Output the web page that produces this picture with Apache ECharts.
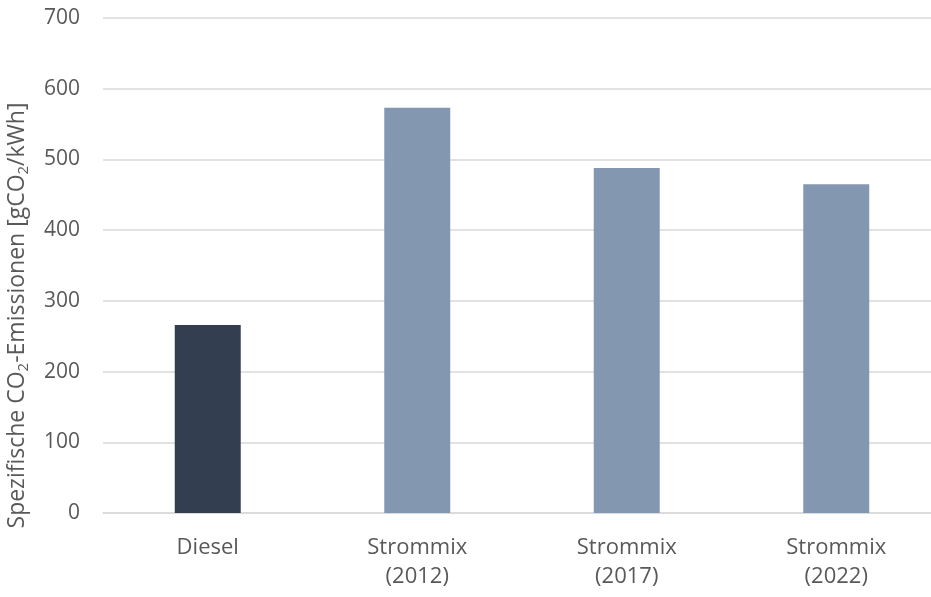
<!DOCTYPE html>
<html>
<head>
<meta charset="utf-8">
<script src="https://cdn.jsdelivr.net/npm/echarts@6/dist/echarts.min.js"></script>
<style>
  html, body { margin: 0; padding: 0; background: #fff; }
  #chart { width: 931px; height: 597px; }
</style>
</head>
<body>
<div id="chart"></div>
<script>
// Specific CO2 emissions per kWh: diesel vs. German electricity mix
const categories = ['Diesel', 'Strommix\n(2012)', 'Strommix\n(2017)', 'Strommix\n(2022)'];
const emissions = [266, 573, 488, 465];
const barColors = ['#333f50', '#8497b0', '#8497b0', '#8497b0'];
const yTicks = [0, 100, 200, 300, 400, 500, 600, 700];

const FONT = '"Open Sans", "Noto Sans", sans-serif';
const TEXT = '#595959';
const GRID = '#d9d9d9';

const chart = echarts.init(document.getElementById('chart'), null, { renderer: 'canvas' });

chart.setOption({
  backgroundColor: '#ffffff',
  animation: false,
  grid: {
    left: 103,
    right: -10,
    top: 18,
    bottom: 84,
    containLabel: false,
    outerBoundsMode: 'none'
  },
  xAxis: {
    type: 'category',
    data: categories,
    axisLine: { show: true, lineStyle: { color: GRID, width: 1.5 } },
    axisTick: { show: false },
    axisLabel: {
      color: TEXT,
      fontFamily: FONT,
      fontSize: 22,
      lineHeight: 29,
      margin: 20,
      interval: 0
    }
  },
  yAxis: {
    type: 'value',
    min: yTicks[0],
    max: yTicks[yTicks.length - 1],
    interval: 100,
    axisLine: { show: false },
    axisTick: { show: false },
    splitLine: { lineStyle: { color: GRID, width: 1.5 } },
    axisLabel: {
      color: TEXT,
      fontFamily: FONT,
      fontSize: 21,
      margin: 23
    },
    name: '{a|Spezifische CO}{s|2}{a|-Emissionen [gCO}{s|2}{a|/kWh]}',
    nameLocation: 'middle',
    nameGap: 66,
    nameRotate: 90,
    nameTextStyle: {
      padding: [0, 100, 0, 0],
      rich: {
        a: { color: TEXT, fontFamily: FONT, fontSize: 23, lineHeight: 31 },
        s: { color: TEXT, fontFamily: FONT, fontSize: 15, lineHeight: 15, verticalAlign: 'bottom', padding: [0, 0, 2, 0] }
      }
    }
  },
  series: [{
    type: 'bar',
    data: emissions.map((v, i) => ({ value: v, itemStyle: { color: barColors[i] } })),
    barWidth: '31.5%'
  }]
});
</script>
</body>
</html>
